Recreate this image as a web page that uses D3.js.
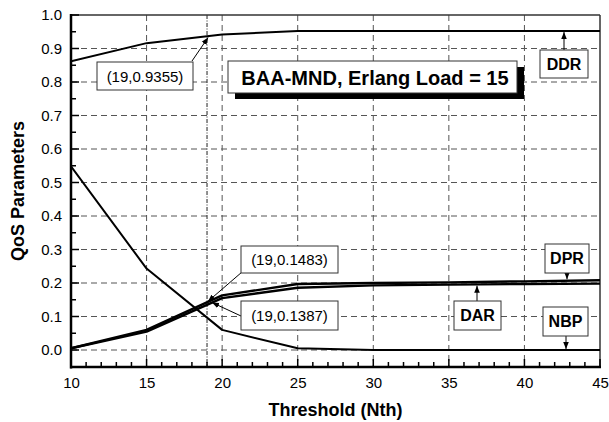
<!DOCTYPE html>
<html>
<head>
<meta charset="utf-8">
<script src="https://cdn.jsdelivr.net/npm/d3@7"></script>
<style>
  html, body { margin: 0; padding: 0; background: #fff; }
  svg { display: block; font-family: "Liberation Sans", Arial, sans-serif; }
</style>
</head>
<body>
<svg id="chart" width="609" height="422"></svg>
<script>
// Threshold values (x) and QoS parameter series
const thresholds = [10, 15, 20, 25, 30, 35, 40, 45];
const ddr = [0.862, 0.916, 0.942, 0.952, 0.952, 0.952, 0.952, 0.952];
const nbp = [0.548, 0.243, 0.060, 0.005, 0.000, 0.000, 0.000, 0.000];
const dpr = [0.005, 0.060, 0.163, 0.197, 0.200, 0.202, 0.205, 0.208];
const dar = [0.005, 0.055, 0.155, 0.186, 0.193, 0.195, 0.197, 0.198];

const xTicks = [10, 15, 20, 25, 30, 35, 40, 45];
const yTicks = [0.0, 0.1, 0.2, 0.3, 0.4, 0.5, 0.6, 0.7, 0.8, 0.9, 1.0];

// Highlighted operating point
const markX = 19;
const markDDR = 0.9355;
const markDPR = 0.1483;
const markDAR = 0.1387;

const svg = d3.select("#chart");
const pl = 71, pr = 600, pt = 15, pb = 367;

const x = d3.scaleLinear().domain([10, 45]).range([pl, pr]);
const y = d3.scaleLinear().domain([0, 1]).range([350, pt]);

// defs: arrowhead and plot clip
const defs = svg.append("defs");
defs.append("marker")
  .attr("id", "arr").attr("viewBox", "0 0 10 10")
  .attr("refX", 10).attr("refY", 5)
  .attr("markerWidth", 7).attr("markerHeight", 7)
  .attr("markerUnits", "userSpaceOnUse")
  .attr("orient", "auto")
  .append("path").attr("d", "M0,1 L10,5 L0,9 Z").attr("fill", "#000");

defs.append("clipPath").attr("id", "plotclip")
  .append("rect").attr("x", pl).attr("y", pt).attr("width", pr - pl).attr("height", pb - pt);

// grid
const grid = svg.append("g");
yTicks.filter(v => v < 0.999).forEach(v => {
  grid.append("line")
    .attr("x1", pl).attr("x2", pr).attr("y1", y(v)).attr("y2", y(v))
    .attr("stroke", "#555").attr("stroke-width", 1).attr("stroke-dasharray", "6,4");
});
xTicks.filter(v => v > 10 && v < 45).forEach(v => {
  grid.append("line")
    .attr("x1", x(v)).attr("x2", x(v)).attr("y1", pt).attr("y2", pb)
    .attr("stroke", "#555").attr("stroke-width", 1).attr("stroke-dasharray", "6,4");
});

// vertical marker at threshold 19
svg.append("line")
  .attr("x1", x(markX)).attr("x2", x(markX)).attr("y1", pt).attr("y2", pb)
  .attr("stroke", "#222").attr("stroke-width", 1).attr("stroke-dasharray", "4,1.5,1,1.5");

// frame top/right
svg.append("line").attr("x1", pl).attr("x2", pr).attr("y1", pt).attr("y2", pt)
  .attr("stroke", "#333").attr("stroke-width", 1.5);
svg.append("line").attr("x1", pr).attr("x2", pr).attr("y1", pt).attr("y2", pb)
  .attr("stroke", "#333").attr("stroke-width", 1.5);

// series lines
const line = d3.line().x((d, i) => x(thresholds[i])).y(d => y(d));
const plot = svg.append("g").attr("clip-path", "url(#plotclip)");
[[ddr, 2], [nbp, 2], [dar, 2.4], [dpr, 2.4]].forEach(([s, w]) => {
  plot.append("path").datum(s).attr("d", line)
    .attr("fill", "none").attr("stroke", "#000").attr("stroke-width", w)
    .attr("stroke-linejoin", "round");
});

// axes
const xAxis = svg.append("g").attr("transform", `translate(0,${pb})`);
xAxis.call(d3.axisBottom(x).tickValues(xTicks).tickSize(0).tickPadding(10).tickFormat(d3.format("d")));
xAxis.select(".domain").remove();
xAxis.selectAll("text").attr("font-size", 15).attr("fill", "#000")
  .attr("font-family", "'Liberation Sans', Arial, sans-serif");
d3.range(10, 46, 1).forEach(v => {
  const major = v % 5 === 0;
  svg.append("line").attr("x1", x(v)).attr("x2", x(v))
    .attr("y1", pb).attr("y2", pb - (major ? 8 : 5))
    .attr("stroke", "#000").attr("stroke-width", 1.5);
});

const yAxis = svg.append("g").attr("transform", `translate(${pl},0)`);
yAxis.call(d3.axisLeft(y).tickValues(yTicks).tickSize(0).tickPadding(9).tickFormat(d3.format(".1f")));
yAxis.select(".domain").remove();
yAxis.selectAll("text").attr("font-size", 15).attr("fill", "#000")
  .attr("font-family", "'Liberation Sans', Arial, sans-serif");
d3.range(0, 21).map(i => i * 0.05).forEach(v => {
  const major = Math.round(v * 100) % 10 === 0;
  svg.append("line").attr("x1", pl).attr("x2", pl + (major ? 8 : 5))
    .attr("y1", y(v)).attr("y2", y(v))
    .attr("stroke", "#000").attr("stroke-width", 1.5);
});

svg.append("line").attr("x1", pl).attr("x2", pl).attr("y1", pt - 1).attr("y2", pb + 1.5)
  .attr("stroke", "#000").attr("stroke-width", 2.5);
svg.append("line").attr("x1", pl - 1).attr("x2", pr + 1).attr("y1", pb).attr("y2", pb)
  .attr("stroke", "#000").attr("stroke-width", 2.5);

// axis titles
svg.append("text").attr("x", (pl + pr) / 2).attr("y", 416)
  .attr("text-anchor", "middle").attr("font-size", 18).attr("font-weight", "bold")
  .text("Threshold (Nth)");
svg.append("text").attr("transform", `translate(24,${(pt + pb) / 2}) rotate(-90)`)
  .attr("text-anchor", "middle").attr("font-size", 18).attr("font-weight", "bold")
  .text("QoS Parameters");

// annotation helpers
function box(x0, y0, w, h, label, bold) {
  svg.append("rect").attr("x", x0).attr("y", y0).attr("width", w).attr("height", h)
    .attr("fill", "#fff").attr("stroke", "#333").attr("stroke-width", 1);
  svg.append("text").attr("x", x0 + w / 2).attr("y", y0 + h / 2 + 5.5)
    .attr("text-anchor", "middle").attr("font-size", bold ? 16 : 15)
    .attr("font-weight", bold ? "bold" : "normal").text(label);
}
function arrow(x1, y1, x2, y2) {
  svg.append("line").attr("x1", x1).attr("y1", y1).attr("x2", x2).attr("y2", y2)
    .attr("stroke", "#000").attr("stroke-width", 1).attr("marker-end", "url(#arr)");
}

// point annotations at threshold 19
arrow(192, 61, x(markX) + 1, y(markDDR) + 1);
box(97, 62, 96, 28, `(${markX},${markDDR})`, false);

arrow(242, 272, x(markX) + 1, y(markDPR) + 1);
box(241, 246, 97, 27, `(${markX},${markDPR})`, false);

arrow(241, 316, x(markX) + 5, y(markDAR) - 1);
box(241, 301, 97, 29, `(${markX},${markDAR})`, false);

// series labels
arrow(564, 50, 564, y(ddr[7]) + 1);
box(540, 50, 48, 28, "DDR", true);

arrow(567, 273, 567, y(dpr[7]) - 1);
box(545, 244, 44, 29, "DPR", true);

arrow(477, 301, 477, y(dar[5]) + 1);
box(454, 301, 47, 29, "DAR", true);

arrow(566, 336, 566, y(nbp[7]) - 1);
box(543, 307, 45, 29, "NBP", true);

// title box with drop shadow
svg.append("rect").attr("x", 235).attr("y", 67).attr("width", 289).attr("height", 32).attr("fill", "#000");
svg.append("rect").attr("x", 228).attr("y", 61).attr("width", 289).attr("height", 32)
  .attr("fill", "#fff").attr("stroke", "#333").attr("stroke-width", 1);
svg.append("text").attr("x", 375).attr("y", 84.5).attr("text-anchor", "middle")
  .attr("font-size", 20).attr("font-weight", "bold").text("BAA-MND, Erlang Load = 15");
</script>
</body>
</html>
